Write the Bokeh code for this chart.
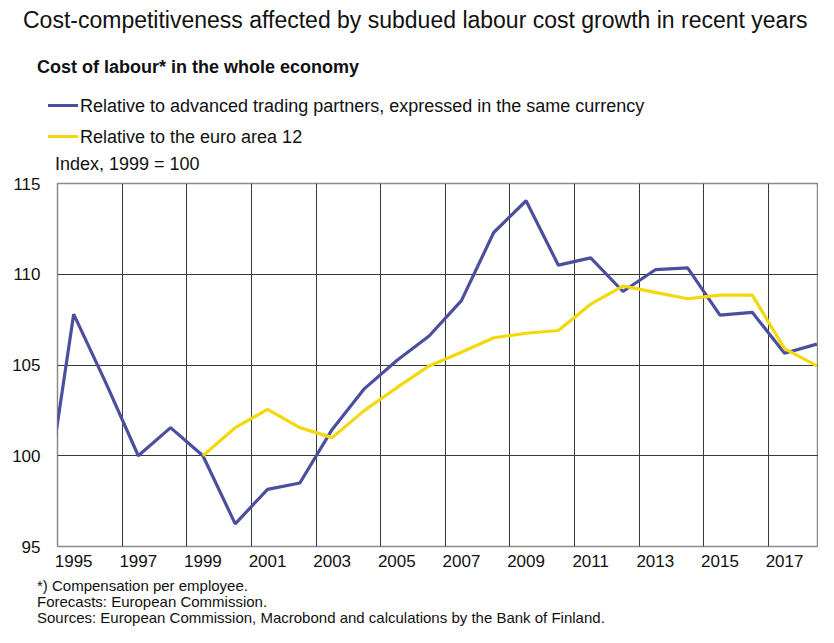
from bokeh.plotting import figure
from bokeh.layouts import column
from bokeh.models import Range1d, FixedTicker, Div
from bokeh.embed import file_html
from bokeh.resources import INLINE

# ---- data ----
years_blue = list(range(1994, 2019))
blue_vals = [95.8, 107.8, 104.0, 100.0, 101.55, 100.0, 96.25, 98.15, 98.5, 101.45,
             103.7, 105.25, 106.6, 108.55, 112.3, 114.05, 110.5, 110.9, 109.05,
             110.25, 110.35, 107.75, 107.9, 105.65, 106.15]
years_yellow = list(range(1999, 2019))
yellow_vals = [100.0, 101.55, 102.55, 101.55, 101.0, 102.5, 103.75, 104.95, 105.7,
               106.5, 106.75, 106.9, 108.35, 109.35, 109.0, 108.65, 108.85, 108.85,
               105.9, 104.95]
x_tick_years = list(range(1995, 2018, 2))
y_ticks = [95, 100, 105, 110, 115]

title_text = "Cost-competitiveness affected by subdued labour cost growth in recent years"
subtitle_text = "Cost of labour* in the whole economy"
series_names = ["Relative to advanced trading partners, expressed in the same currency",
                "Relative to the euro area 12"]
unit_text = "Index, 1999 = 100"
notes = ["*) Compensation per employee.",
         "Forecasts: European Commission.",
         "Sources: European Commission, Macrobond and calculations by the Bank of Finland."]

BLUE = "#4b4f9e"
YELLOW = "#f3d80c"
FONT = "Liberation Sans"
TXT = "#111111"
W = 818
H_HEAD, H_MAIN, H_FOOT = 171, 404, 52


def span(s, left, top, size, lh, bold=False):
    w = "bold" if bold else "normal"
    return (f'<div style="position:absolute;left:{left}px;top:{top}px;'
            f'font-size:{size}px;line-height:{lh}px;font-weight:{w};'
            f'white-space:nowrap;">{s}</div>')


def bar(col, left, top, width):
    return (f'<div style="position:absolute;left:{left}px;top:{top}px;'
            f'width:{width}px;height:3px;background:{col};"></div>')


def box(inner, height):
    return (f'<div style="position:relative;width:{W}px;height:{height}px;'
            f'font-family:\'{FONT}\',Arial,sans-serif;color:{TXT};">{inner}</div>')


# ---- header ----
head_html = span(title_text, 23, 8, 23, 24)
head_html += span(subtitle_text, 37, 57, 18, 20, bold=True)
for i, (name, col) in enumerate(zip(series_names, [BLUE, YELLOW])):
    cy = 105.5 + 31 * i
    head_html += bar(col, 48, cy - 1.5, 30)
    head_html += span(name, 80, cy - 10, 18, 20)
head_html += span(unit_text, 55, 158, 18, 13)
head = Div(text=box(head_html, H_HEAD), width=W, height=H_HEAD, margin=(0, 0, 0, 0))

# ---- main chart ----
p = figure(width=W, height=H_MAIN, output_backend="svg", toolbar_location=None,
           x_range=Range1d(1994.5, 2018.05), y_range=Range1d(95, 115),
           min_border_left=57, min_border_right=0, min_border_top=12,
           min_border_bottom=29, margin=(0, 0, 0, 0))
p.outline_line_color = "#8a8a8a"
p.outline_line_width = 1.5
p.xgrid.ticker = FixedTicker(ticks=[y - 0.5 for y in x_tick_years])
p.ygrid.ticker = FixedTicker(ticks=y_ticks)
for g in (p.xgrid, p.ygrid):
    g.grid_line_color = "#3a3a3a"
    g.grid_line_width = 1
p.xaxis.ticker = FixedTicker(ticks=x_tick_years)
p.yaxis.ticker = FixedTicker(ticks=y_ticks)
for ax in (p.xaxis, p.yaxis):
    ax.axis_line_color = None
    ax.major_tick_line_color = None
    ax.minor_tick_line_color = None
    ax.major_tick_in = 0
    ax.major_tick_out = 0
    ax.major_label_text_font = FONT
    ax.major_label_text_font_size = "17px"
    ax.major_label_text_color = TXT
p.xaxis.major_label_standoff = 8
p.yaxis.major_label_standoff = 17
p.line(years_blue, blue_vals, line_color=BLUE, line_width=3.2)
p.line(years_yellow, yellow_vals, line_color=YELLOW, line_width=3.2)

# ---- footer ----
foot_html = "".join(span(s, 37, 3 + 16 * i, 15, 16) for i, s in enumerate(notes))
foot = Div(text=box(foot_html, H_FOOT), width=W, height=H_FOOT, margin=(0, 0, 0, 0))

layout = column(head, p, foot, spacing=0)
open("out.html", "w").write(file_html(layout, INLINE))
